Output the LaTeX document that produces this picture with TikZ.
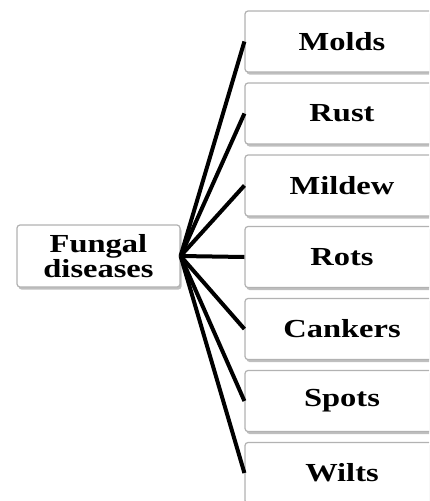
\documentclass[tikz,border=0pt]{standalone}
\usepackage{fontspec}
\setmainfont{Liberation Serif}[FakeStretch=1.25]
\usetikzlibrary{shadows}
\tikzset{
  box/.style={draw=gray!60, line width=1.2pt, rounded corners=3pt, fill=white,
    drop shadow={shadow xshift=1.5pt, shadow yshift=-2.5pt, opacity=0.5, fill=gray},
    font=\fontsize{26}{25}\selectfont\bfseries, align=center, inner sep=0pt},
  leaf/.style={box, minimum width=194pt, minimum height=61pt},
  link/.style={line width=4pt, black}
}
\begin{document}
\begin{tikzpicture}[x=1pt,y=-1pt]
\useasboundingbox (0,0) rectangle (429,501);
\clip (0,0) rectangle (429,501);
\node[box, minimum width=163pt, minimum height=62pt] (fd) at (98.5,256) {Fungal\\diseases};
\node[leaf] (molds) at (342,41.5) {Molds};
\node[leaf] (rust) at (342,113.5) {Rust};
\node[leaf] (mildew) at (342,185.5) {Mildew};
\node[leaf] (rots) at (342,257) {Rots};
\node[leaf] (cankers) at (342,329) {Cankers};
\node[leaf] (spots) at (342,401) {Spots};
\node[leaf] (wilts) at (342,473) {Wilts};
\foreach \n in {molds,rust,mildew,rots,cankers,spots,wilts}
  \draw[link] (fd.east) -- (\n.west);
\end{tikzpicture}
\end{document}
